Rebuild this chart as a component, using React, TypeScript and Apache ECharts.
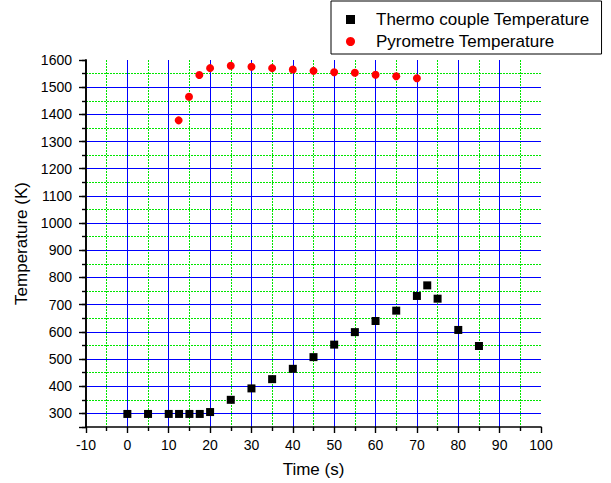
import React, { useEffect, useRef } from "react";
import * as echarts from "echarts";

const thermoTime = [0, 5, 10, 12.5, 15, 17.5, 20, 25, 30, 35, 40, 45, 50, 55, 60, 65, 70, 72.5, 75, 80, 85];
const thermoTemp = [298, 298, 298, 298, 298, 298, 305, 350, 392, 426, 464, 507, 553, 599, 640, 678, 732, 771, 722, 607, 548];

const pyroTime = [12.4, 14.9, 17.4, 20, 25, 30, 35, 40, 45, 50, 55, 60, 65, 70];
const pyroTemp = [1378, 1465, 1545, 1570, 1579, 1575, 1570, 1565, 1560, 1555, 1553, 1546, 1540, 1533];

const seriesNames = ["Thermo couple Temperature", "Pyrometre Temperature"];
const xName = "Time (s)";
const yName = "Temperature (K)";

const FONT = "'Liberation Sans', Arial, Helvetica, sans-serif";
const BLUE = "#0000ff";
const GREEN = "#00e600";

const greenLine = () => ({ show: true, showMinLine: false, showMaxLine: false, lineStyle: { color: GREEN, width: 1, type: [2, 1] } });
const blueLine = () => ({ show: true, showMinLine: false, showMaxLine: false, lineStyle: { color: BLUE, width: 1, type: "solid" } });
const axisLine = () => ({ show: true, onZero: false, lineStyle: { color: "#000", width: 1.6 } });

export default function App() {
  const ref = useRef<HTMLDivElement>(null);

  useEffect(() => {
    if (!ref.current) return;
    const chart = echarts.init(ref.current, undefined, { renderer: "svg" });

    chart.setOption({
      animation: false,
      backgroundColor: "#fff",
      textStyle: { fontFamily: FONT },
      grid: { left: 86, right: 70, top: 60, bottom: 55, containLabel: false },
      legend: {
        orient: "vertical",
        left: 331,
        top: 1,
        padding: [10, 12, 4, 15],
        itemGap: 5,
        itemWidth: 9,
        itemHeight: 9,
        borderColor: "#000",
        borderWidth: 1,
        backgroundColor: "#fff",
        textStyle: { fontFamily: FONT, fontSize: 17, color: "#000", padding: [0, 0, 0, 16] },
        data: [
          { name: seriesNames[0], icon: "rect" },
          { name: seriesNames[1], icon: "circle" },
        ],
      },
      xAxis: {
        type: "value",
        z: 2,
        min: -10,
        max: 100,
        interval: 10,
        name: xName,
        nameLocation: "middle",
        nameGap: 34,
        nameTextStyle: { fontFamily: FONT, fontSize: 17, color: "#000" },
        axisLine: axisLine(),
        axisTick: { show: true, length: 6, lineStyle: { color: "#000", width: 1.4 } },
        minorTick: { show: true, splitNumber: 2, length: 4, lineStyle: { color: "#000", width: 1.4 } },
        axisLabel: { fontFamily: FONT, fontSize: 14, color: "#000", margin: 11 },
        splitLine: blueLine(),
        minorSplitLine: { show: true, lineStyle: { color: GREEN, width: 1, type: [2, 1] } },
      },
      yAxis: [
        {
          type: "value",
          position: "left",
          z: 1,
          min: 250,
          max: 1600,
          interval: 50,
          axisLine: axisLine(),
          axisTick: { show: true, length: 4, lineStyle: { color: "#000", width: 1.4 } },
          axisLabel: { show: false },
          splitLine: greenLine(),
        },
        {
          type: "value",
          position: "left",
          z: 3,
          offset: 0,
          min: 250,
          max: 1600,
          splitNumber: 14,
          minInterval: 100,
          maxInterval: 100,
          name: yName,
          nameLocation: "middle",
          nameGap: 53,
          nameTextStyle: { fontFamily: FONT, fontSize: 17, color: "#000" },
          axisLine: axisLine(),
          axisTick: { show: true, length: 7, lineStyle: { color: "#000", width: 1.4 } },
          axisLabel: {
            fontFamily: FONT,
            fontSize: 14,
            color: "#000",
            margin: 14,
            formatter: (v: number) => (v % 100 === 0 ? String(v) : ""),
          },
          splitLine: blueLine(),
        },
      ],
      series: [
        {
          name: seriesNames[0],
          type: "scatter",
          yAxisIndex: 0,
          symbol: "rect",
          symbolSize: 8,
          itemStyle: { color: "#000", opacity: 1 },
          data: thermoTime.map((t, i) => [t, thermoTemp[i]]),
          z: 5,
        },
        {
          name: seriesNames[1],
          type: "scatter",
          yAxisIndex: 0,
          symbol: "circle",
          symbolSize: 8,
          itemStyle: { color: "#ff0000", opacity: 1 },
          data: pyroTime.map((t, i) => [t, pyroTemp[i]]),
          z: 5,
        },
      ],
    });
    return () => chart.dispose();
  }, []);

  return <div ref={ref} style={{ width: 611, height: 483, position: "absolute", left: 0, top: 0 }} />;
}
